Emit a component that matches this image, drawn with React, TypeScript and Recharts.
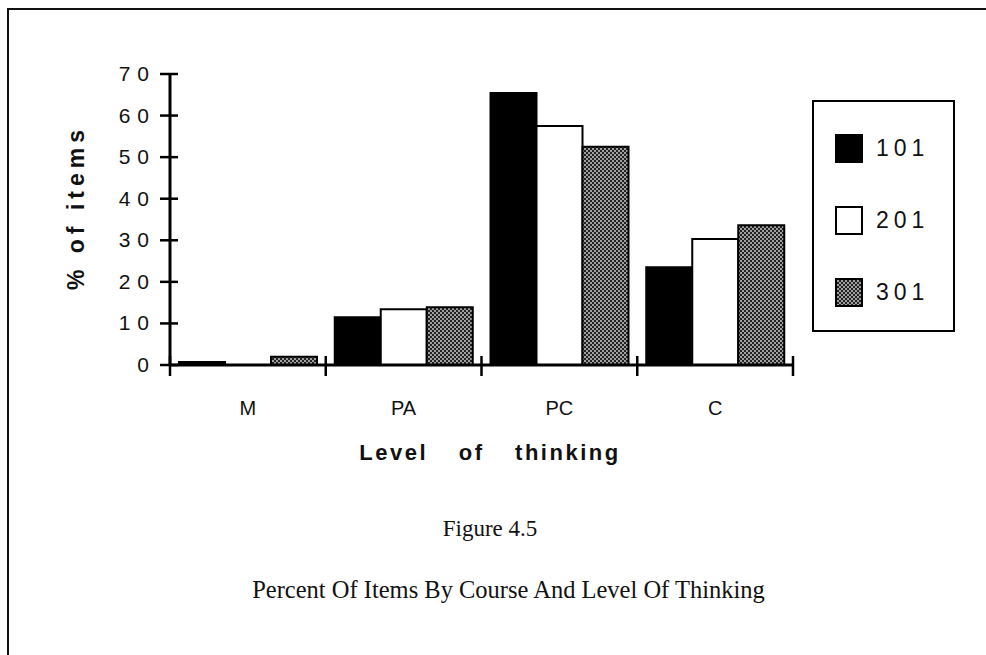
import { BarChart, Bar, XAxis, YAxis, Legend } from 'recharts';

// values (percent of items)
const levels = ['M', 'PA', 'PC', 'C'];
const course101 = [0.7, 11.5, 65.4, 23.5];
const course201 = [0, 13.4, 57.5, 30.3];
const course301 = [2, 13.9, 52.5, 33.6];
const yTicks = [0, 10, 20, 30, 40, 50, 60, 70];
const courses = ['101', '201', '301'];

const data = levels.map((level, i) => ({
  level,
  '101': course101[i],
  '201': course201[i],
  '301': course301[i],
}));

const W = 986;
const H = 655;
const PLOT_LEFT = 170;
const PLOT_RIGHT = 793;
const BAND = (PLOT_RIGHT - PLOT_LEFT) / levels.length;

const fills: Record<string, string> = { '101': '#000', '201': '#fff', '301': 'url(#dots)' };

const sansFont = '"Liberation Sans", Arial, sans-serif';
const serifFont = '"Liberation Serif", "Times New Roman", serif';

const YTick = (props: any) => {
  const { x, y, payload } = props;
  return (
    <g>
      <line x1={x - 10} x2={x + 8} y1={y} y2={y} stroke="#000" strokeWidth={2.5} />
      <text x={x - 14} y={y + 7} textAnchor="end" fontFamily={sansFont} fontSize={21} letterSpacing={7} fill="#111">
        {payload.value}
      </text>
    </g>
  );
};

const XTick = (props: any) => {
  const { x, y, payload, index } = props;
  const left = x - BAND / 2;
  const right = x + BAND / 2;
  return (
    <g>
      <line x1={left} x2={left} y1={y - 9} y2={y + 11} stroke="#000" strokeWidth={2.5} />
      {index === levels.length - 1 && (
        <line x1={right} x2={right} y1={y - 9} y2={y + 11} stroke="#000" strokeWidth={2.5} />
      )}
      <text x={x} y={y + 50} textAnchor="middle" fontFamily={sansFont} fontSize={20} fill="#111">
        {payload.value}
      </text>
    </g>
  );
};

const DotPattern = ({ id }: { id: string }) => (
  <pattern id={id} width={4} height={4} patternUnits="userSpaceOnUse">
    <rect width={4} height={4} fill="#222" />
    <circle cx={1} cy={1} r={0.9} fill="#ddd" />
    <circle cx={3} cy={3} r={0.9} fill="#ddd" />
  </pattern>
);

const LegendBox = () => (
  <div
    style={{
      width: 143,
      height: 232,
      border: '2px solid #000',
      background: '#fff',
      boxSizing: 'border-box',
      paddingTop: 10,
      paddingLeft: 21,
      fontFamily: sansFont,
      fontSize: 23,
      letterSpacing: 5,
    }}
  >
    {courses.map((c) => (
      <div key={c} style={{ display: 'flex', alignItems: 'center', height: 72 }}>
        <svg width={28} height={29} style={{ marginRight: 13 }}>
          <defs>
            <DotPattern id={'legdots' + c} />
          </defs>
          <rect
            x={1}
            y={1}
            width={26}
            height={27}
            fill={c === '301' ? 'url(#legdots' + c + ')' : fills[c]}
            stroke="#000"
            strokeWidth={2}
          />
        </svg>
        <span style={{ color: '#111' }}>{c}</span>
      </div>
    ))}
  </div>
);

export default function App() {
  return (
    <div style={{ position: 'fixed', left: 0, top: 0, width: W, height: H, background: '#fff', overflow: 'hidden' }}>
      <div
        style={{
          position: 'absolute',
          left: 7,
          top: 8,
          width: W,
          height: H,
          borderTop: '2px solid #111',
          borderLeft: '2px solid #111',
        }}
      />
      <div style={{ position: 'absolute', left: 0, top: 0 }}>
        <BarChart
          width={W}
          height={H}
          data={data}
          margin={{ top: 74, right: W - PLOT_RIGHT, left: PLOT_LEFT - 40, bottom: H - 365 - 40 }}
          barGap={0}
          barCategoryGap={9}
        >
          <defs>
            <DotPattern id="dots" />
          </defs>
          <XAxis
            dataKey="level"
            height={40}
            tickSize={0}
            tickMargin={0}
            tick={<XTick />}
            axisLine={{ stroke: '#000', strokeWidth: 3 }}
            interval={0}
          />
          <YAxis
            width={40}
            domain={[0, 70]}
            ticks={yTicks}
            tickSize={0}
            tickMargin={0}
            tick={<YTick />}
            axisLine={{ stroke: '#000', strokeWidth: 3 }}
            label={{
              value: '% of items',
              angle: -90,
              position: 'insideLeft',
              offset: -54,
              dy: -12,
              style: { fontFamily: sansFont, fontSize: 23, fontWeight: 700, fill: '#111', letterSpacing: 5, textAnchor: 'middle' },
            }}
          />
          <Legend
            layout="vertical"
            align="center"
            verticalAlign="middle"
            wrapperStyle={{ left: 812, top: 100, width: 143, height: 232 }}
            content={<LegendBox />}
          />
          {courses.map((c) => (
            <Bar key={c} dataKey={c} fill={fills[c]} stroke="#000" strokeWidth={2} isAnimationActive={false} />
          ))}
        </BarChart>
      </div>
      <div
        style={{
          position: 'absolute',
          left: 0,
          width: 980,
          top: 440,
          textAlign: 'center',
          fontFamily: sansFont,
          fontWeight: 700,
          fontSize: 22,
          letterSpacing: 2.5,
          wordSpacing: 22,
          color: '#111',
        }}
      >
        Level of thinking
      </div>
      <div
        style={{
          position: 'absolute',
          left: 0,
          width: 980,
          top: 516,
          textAlign: 'center',
          fontFamily: serifFont,
          fontSize: 23,
          color: '#111',
        }}
      >
        Figure 4.5
      </div>
      <div
        style={{
          position: 'absolute',
          left: 0,
          width: 1017,
          top: 576,
          textAlign: 'center',
          fontFamily: serifFont,
          fontSize: 24.5,
          color: '#111',
        }}
      >
        Percent Of Items By Course And Level Of Thinking
      </div>
    </div>
  );
}
